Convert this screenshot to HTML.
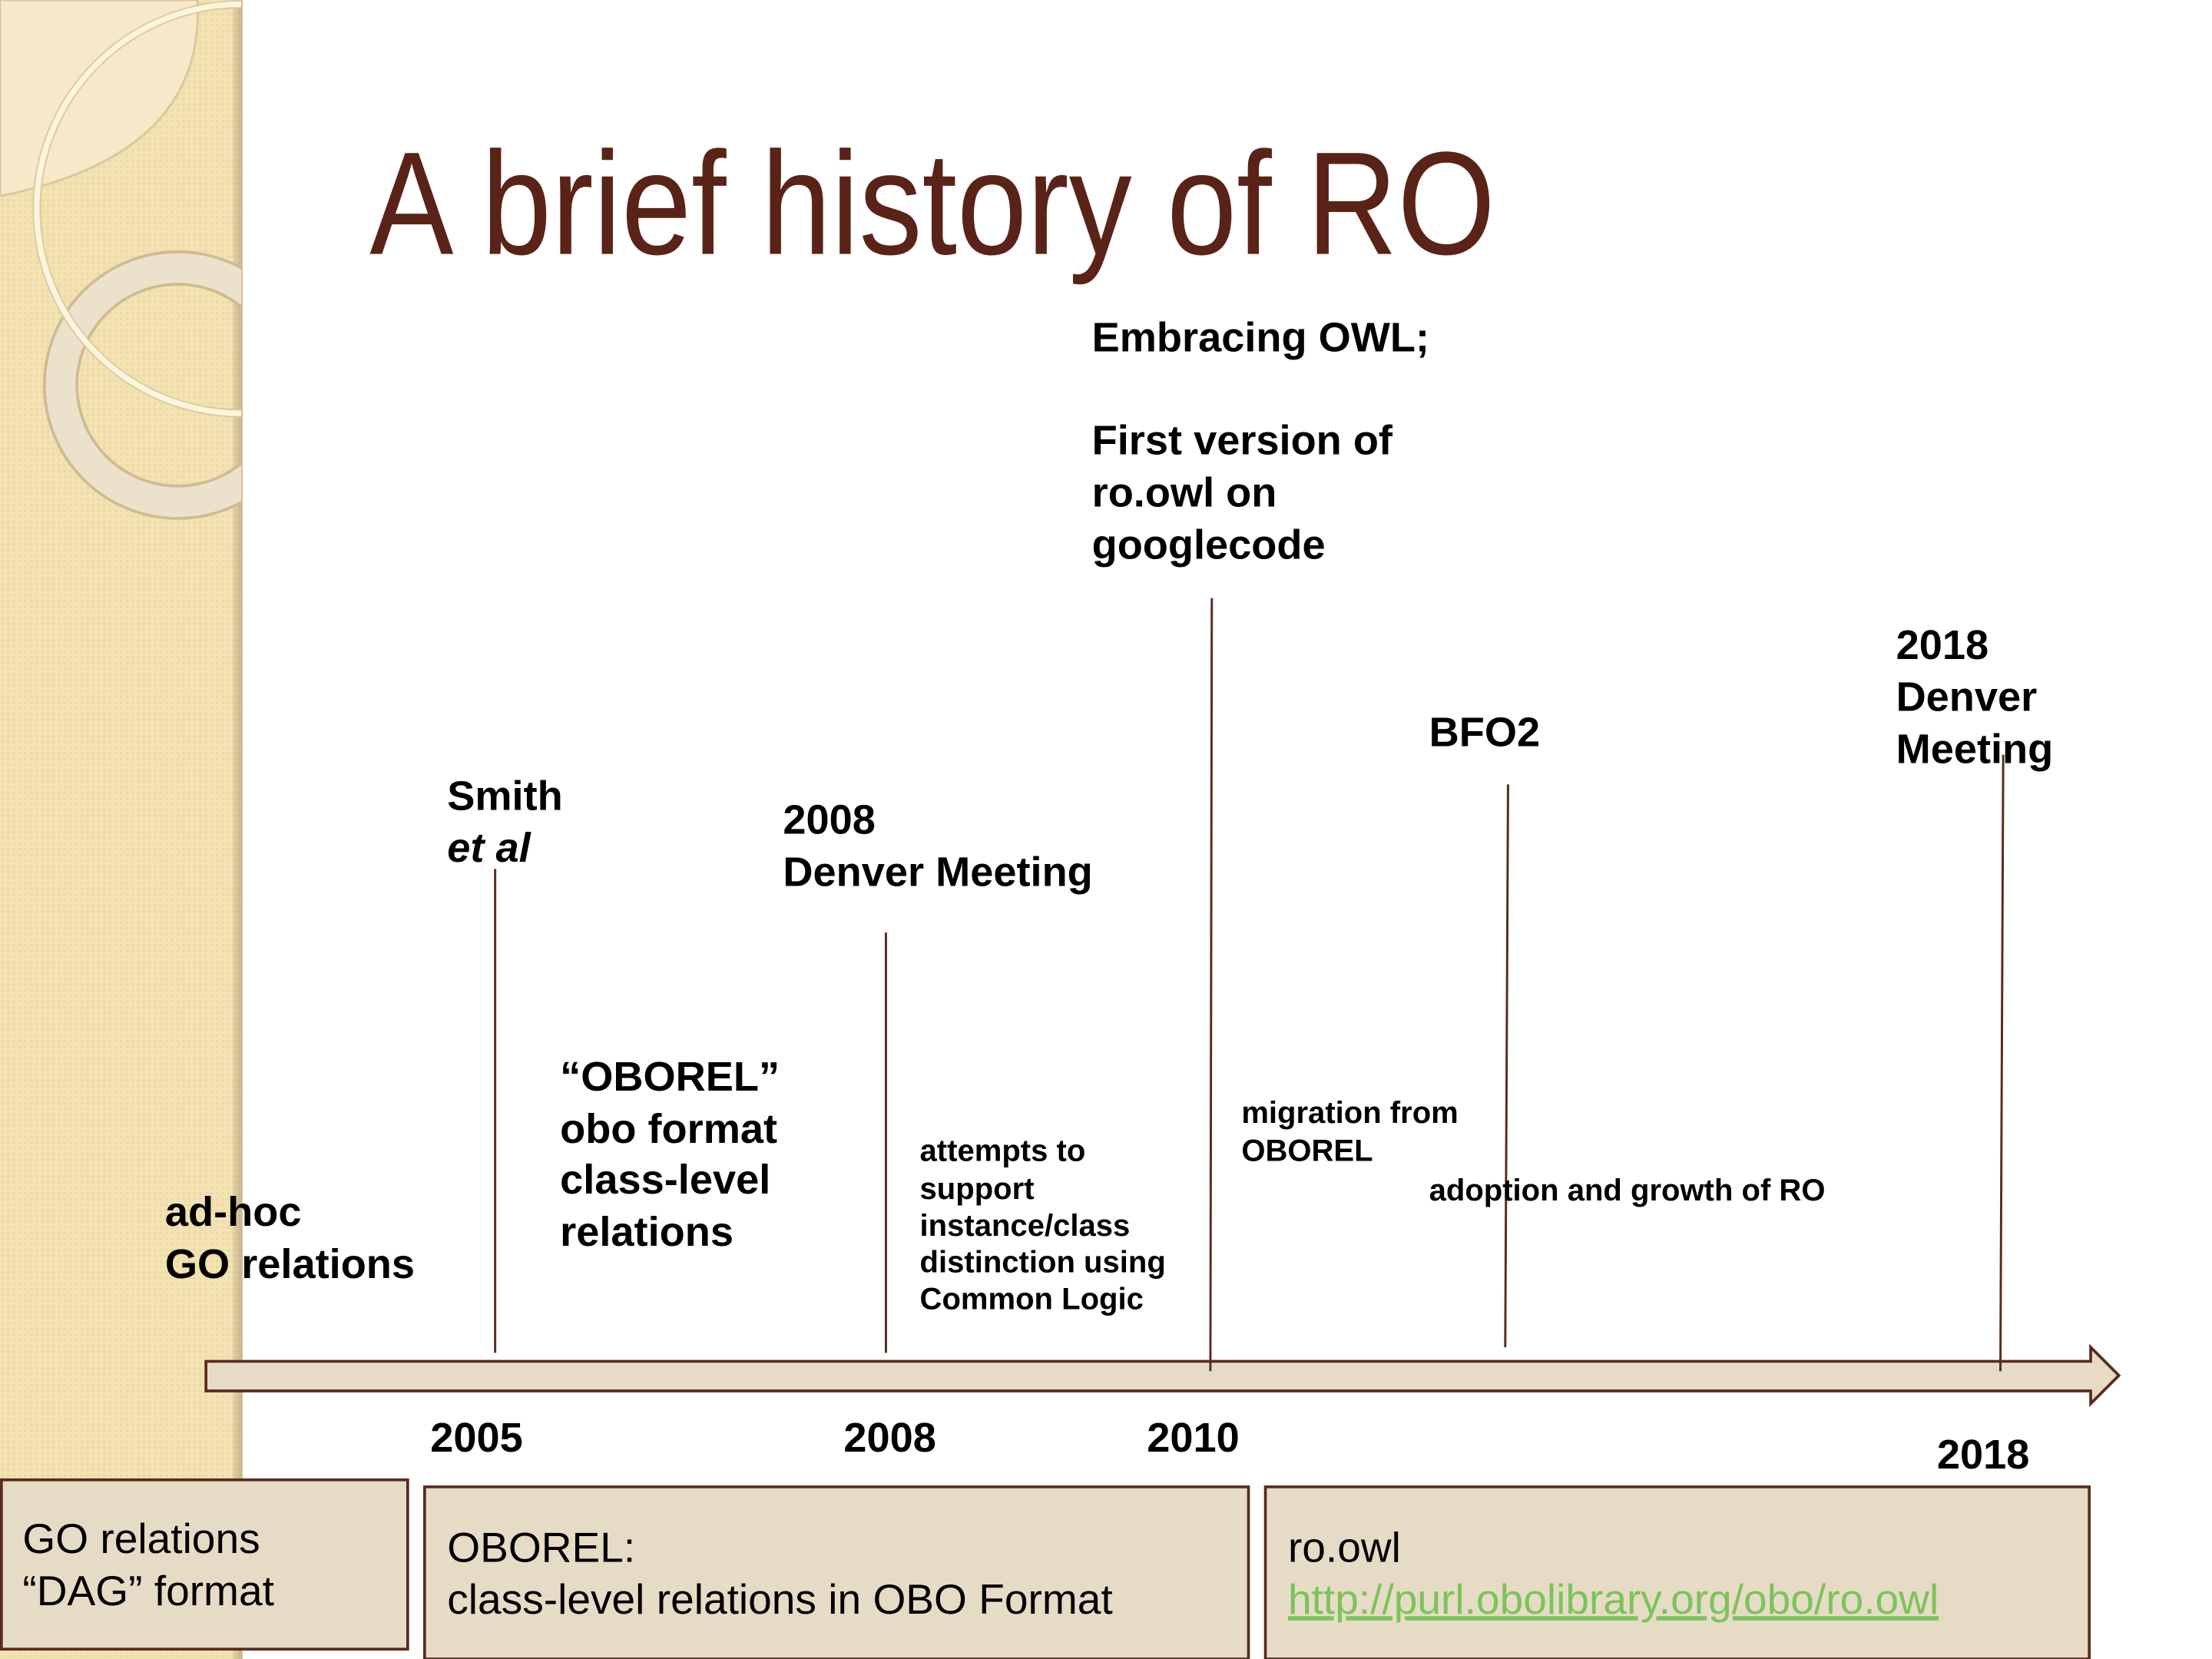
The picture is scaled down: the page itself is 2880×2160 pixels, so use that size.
<!DOCTYPE html>
<html><head><meta charset="utf-8"><style>
html,body{margin:0;padding:0;background:#fff;}
svg{display:block;}
text{font-family:"Liberation Sans",Arial,sans-serif;}
.b{font-weight:bold;font-size:29.5px;fill:#000;}
.s{font-weight:bold;font-size:21.8px;fill:#000;}
.r{font-size:30px;fill:#000;}
</style></head><body>
<svg width="2880" height="2160" viewBox="0 0 1568 1176" preserveAspectRatio="none" xmlns="http://www.w3.org/2000/svg">
<defs>
<pattern id="p" width="4" height="4" patternUnits="userSpaceOnUse">
<rect width="4" height="4" fill="#f3e2b2"/><circle cx="2" cy="2" r="0.9" fill="#ead7a3"/>
</pattern>
<linearGradient id="sh" x1="0" x2="1"><stop offset="0" stop-color="#000" stop-opacity="0"/><stop offset="1" stop-color="#8a7550" stop-opacity="0.35"/></linearGradient>
<clipPath id="c"><rect x="0" y="0" width="171" height="1176"/></clipPath>
</defs>
<rect x="0" y="0" width="172" height="1176" fill="url(#p)"/>
<rect x="164" y="0" width="8" height="1176" fill="url(#sh)"/>
<path d="M0 0 H140 Q146 110 0 139 Z" fill="#f6e8c8" stroke="#d6c7a0" stroke-width="1.5"/>
<g clip-path="url(#c)">
<circle cx="126" cy="273" r="83" fill="none" stroke="#cdbb94" stroke-width="25"/>
<circle cx="126" cy="273" r="83" fill="none" stroke="#ece2cc" stroke-width="21"/>
<circle cx="171" cy="148" r="145" fill="none" stroke="#d9c9a0" stroke-width="6"/>
<circle cx="171" cy="148" r="145" fill="none" stroke="#fdf5dd" stroke-width="4"/>
</g>

<text x="262" y="180" font-size="104" fill="#5a2317" textLength="798" lengthAdjust="spacingAndGlyphs">A brief history of RO</text>

<path d="M146 965 H1482 V955 L1502 975 L1482 995 V986 H146 Z" fill="#e6dcc5" stroke="#5a2a1f" stroke-width="2"/>

<g stroke="#5a2a1f" stroke-width="1.6">
<line x1="351" y1="616" x2="351" y2="959"/>
<line x1="628" y1="661" x2="628" y2="959"/>
<line x1="859" y1="424" x2="858" y2="972"/>
<line x1="1069" y1="556" x2="1067" y2="955"/>
<line x1="1420" y1="535" x2="1418" y2="972"/>
</g>

<text class="b" x="317" y="574">Smith</text>
<text class="b" x="317" y="611" font-style="italic">et al</text>
<text class="b" x="555" y="591">2008</text>
<text class="b" x="555" y="628">Denver Meeting</text>
<text class="b" x="774" y="249">Embracing OWL;</text>
<text class="b" x="774" y="322">First version of</text>
<text class="b" x="774" y="359">ro.owl on</text>
<text class="b" x="774" y="396">googlecode</text>
<text class="b" x="1013" y="529">BFO2</text>
<text class="b" x="1344" y="467">2018</text>
<text class="b" x="1344" y="504">Denver</text>
<text class="b" x="1344" y="541">Meeting</text>

<text class="b" x="397" y="773">“OBOREL”</text>
<text class="b" x="397" y="810">obo format</text>
<text class="b" x="397" y="846">class-level</text>
<text class="b" x="397" y="883">relations</text>
<text class="b" x="117" y="869">ad-hoc</text>
<text class="b" x="117" y="906">GO relations</text>

<text class="s" x="652" y="823">attempts to</text>
<text class="s" x="652" y="850">support</text>
<text class="s" x="652" y="876">instance/class</text>
<text class="s" x="652" y="902">distinction using</text>
<text class="s" x="652" y="928">Common Logic</text>
<text class="s" x="880" y="796">migration from</text>
<text class="s" x="880" y="823">OBOREL</text>
<text class="s" x="1013" y="851">adoption and growth of RO</text>

<text class="b" x="305" y="1029">2005</text>
<text class="b" x="598" y="1029">2008</text>
<text class="b" x="813" y="1029">2010</text>
<text class="b" x="1373" y="1041">2018</text>

<g fill="#e6dcc5" stroke="#5a2a1f" stroke-width="2">
<rect x="1" y="1049" width="288" height="120"/>
<rect x="301" y="1054" width="584" height="122"/>
<rect x="897" y="1054" width="584" height="122"/>
</g>
<text class="r" x="16" y="1101">GO relations</text>
<text class="r" x="16" y="1138">“DAG” format</text>
<text class="r" x="317" y="1107">OBOREL:</text>
<text class="r" x="317" y="1144">class-level relations in OBO Format</text>
<text class="r" x="913" y="1107">ro.owl</text>
<text class="r" x="913" y="1144" style="fill:#7cc35a" text-decoration="underline">http://purl.obolibrary.org/obo/ro.owl</text>
</svg>
</body></html>
